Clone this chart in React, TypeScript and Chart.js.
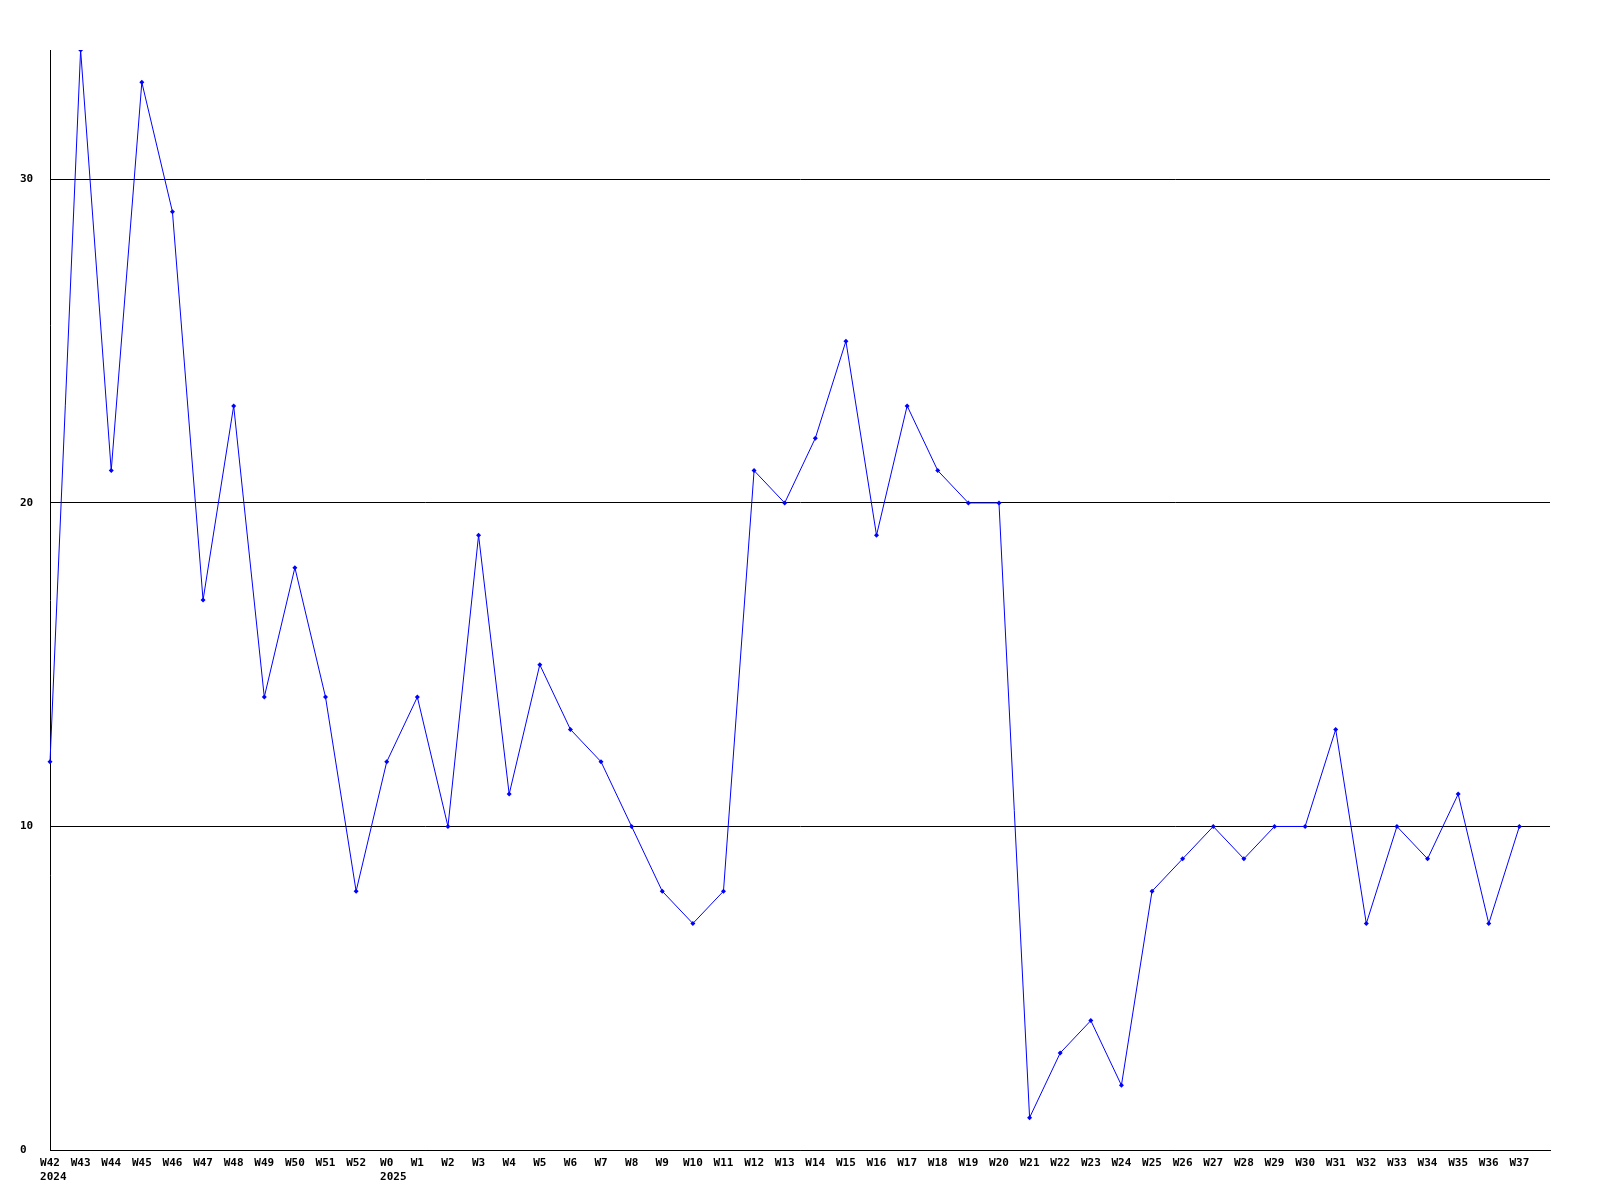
import React, { useEffect, useRef } from "react";
import { Chart, registerables } from "chart.js";

Chart.register(...registerables);

const weeks = [
  "W42", "W43", "W44", "W45", "W46", "W47", "W48", "W49", "W50", "W51", "W52",
  "W0", "W1", "W2", "W3", "W4", "W5", "W6", "W7", "W8", "W9", "W10", "W11", "W12",
  "W13", "W14", "W15", "W16", "W17", "W18", "W19", "W20", "W21", "W22", "W23", "W24",
  "W25", "W26", "W27", "W28", "W29", "W30", "W31", "W32", "W33", "W34", "W35", "W36", "W37",
];

const values = [
  12, 34, 21, 33, 29, 17, 23, 14, 18, 14, 8,
  12, 14, 10, 19, 11, 15, 13, 12, 10, 8, 7, 8, 21,
  20, 22, 25, 19, 23, 21, 20, 20, 1, 3, 4, 2,
  8, 9, 10, 9, 10, 10, 13, 7, 10, 9, 11, 7, 10,
];

const yearMarks = [
  { index: 0, text: "2024" },
  { index: 11, text: "2025" },
];

const yTicks = [0, 10, 20, 30];
const yMax = 34;

const FONT = "'DejaVu Sans Mono', monospace";

export default function App() {
  const ref = useRef<HTMLCanvasElement | null>(null);

  useEffect(() => {
    const canvas = ref.current;
    if (!canvas) return;

    const yearPlugin = {
      id: "yearLabels",
      afterDraw(chart: any) {
        const ctx = chart.ctx;
        const xs = chart.scales.x;
        ctx.save();
        ctx.font = `bold 11px ${FONT}`;
        ctx.fillStyle = "#000";
        ctx.textAlign = "left";
        ctx.textBaseline = "middle";
        for (const m of yearMarks) {
          const px = xs.getPixelForValue(m.index);
          const w = ctx.measureText(weeks[m.index]).width;
          ctx.fillText(m.text, px - w / 2, chart.chartArea.bottom + 27);
        }
        ctx.restore();
      },
    };

    const chart = new Chart(canvas, {
      type: "line",
      data: {
        labels: [...weeks, ""],
        datasets: [
          {
            data: values,
            borderColor: "#0000ff",
            backgroundColor: "#0000ff",
            borderWidth: 1,
            pointStyle: "rectRot",
            pointRadius: 2.5,
            pointBorderWidth: 0,
            tension: 0,
            fill: false,
          },
        ],
      },
      options: {
        animation: false,
        responsive: false,
        maintainAspectRatio: false,
        devicePixelRatio: 1,
        layout: { padding: { left: 20, right: 50, top: 50, bottom: 0 } },
        plugins: {
          legend: { display: false },
          tooltip: { enabled: false },
        },
        scales: {
          x: {
            type: "category",
            offset: false,
            grid: { display: false },
            border: { display: true, color: "#000", width: 1 },
            ticks: {
              autoSkip: false,
              maxRotation: 0,
              minRotation: 0,
              padding: -1,
              color: "#000",
              font: { family: FONT, size: 11, weight: "bold" },
            },
            afterFit(scale: any) {
              scale.height = 50;
            },
          },
          y: {
            type: "linear",
            min: 0,
            max: yMax,
            z: 1,
            grid: {
              color: "#000",
              lineWidth: 1,
              drawTicks: false,
            },
            border: { display: true, color: "#000", width: 1 },
            afterBuildTicks(scale: any) {
              scale.ticks = yTicks.map((v) => ({ value: v }));
            },
            ticks: {
              crossAlign: "far",
              padding: 0,
              color: "#000",
              font: { family: FONT, size: 11, weight: "bold" },
            },
            afterFit(scale: any) {
              scale.width = 30;
            },
          },
        },
      },
      plugins: [yearPlugin],
    });

    return () => chart.destroy();
  }, []);

  return (
    <div style={{ position: "fixed", left: 0, top: 0, width: 1600, height: 1200, background: "#fff" }}>
      <canvas ref={ref} width={1600} height={1200} style={{ width: 1600, height: 1200 }} />
    </div>
  );
}
